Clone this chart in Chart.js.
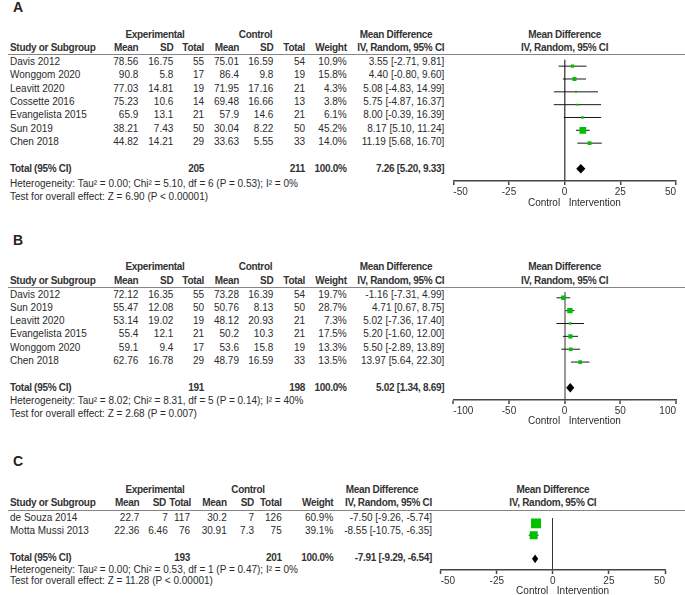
<!DOCTYPE html>
<html>
<head>
<meta charset="utf-8">
<script src="https://cdn.jsdelivr.net/npm/chart.js@4.4.1/dist/chart.umd.min.js"></script>
<style>
  html, body { margin:0; padding:0; background:#fff; }
  #page { position:relative; width:685px; height:595px; overflow:hidden;
          font-family:"Liberation Sans", Arial, sans-serif; font-size:10px; color:#2b2b2b; }
  .t { position:absolute; height:14px; line-height:14px; white-space:nowrap; }
  .b { font-weight:bold; letter-spacing:-0.3px; color:#333; }
  .lbl { position:absolute; font-weight:bold; font-size:14px; line-height:16px; color:#222; }
  .rule { position:absolute; height:1.5px; background:#858585; }
  canvas { position:absolute; }
</style>
</head>
<body>
<div id="page"></div>
<script>
// ---- panel A : data ----
const studiesA = ['Davis 2012','Wonggom 2020','Leavitt 2020','Cossette 2016','Evangelista 2015','Sun 2019','Chen 2018'];
const expMeanA = [78.56, 90.8, 77.03, 75.23, 65.9, 38.21, 44.82];
const expSdA   = [16.75, 5.8, 14.81, 10.6, 13.1, 7.43, 14.21];
const expNA    = [55, 17, 19, 14, 21, 50, 29];
const ctlMeanA = [75.01, 86.4, 71.95, 69.48, 57.9, 30.04, 33.63];
const ctlSdA   = [16.59, 9.8, 17.16, 16.66, 14.6, 8.22, 5.55];
const ctlNA    = [54, 19, 21, 13, 21, 50, 33];
const weightA  = [10.9, 15.8, 4.3, 3.8, 6.1, 45.2, 14.0];
const mdA      = [3.55, 4.40, 5.08, 5.75, 8.00, 8.17, 11.19];
const loA      = [-2.71, -0.80, -4.83, -4.87, -0.39, 5.10, 5.68];
const hiA      = [9.81, 9.60, 14.99, 16.37, 16.39, 11.24, 16.70];
const totalA   = {expN: 205, ctlN: 211, md: 7.26, lo: 5.20, hi: 9.33};
const hetA  = 'Heterogeneity: Tau² = 0.00; Chi² = 5.10, df = 6 (P = 0.53); I² = 0%';
const testA = 'Test for overall effect: Z = 6.90 (P < 0.00001)';
const ticksA = [-50, -25, 0, 25, 50];

// ---- panel B : data ----
const studiesB = ['Davis 2012','Sun 2019','Leavitt 2020','Evangelista 2015','Wonggom 2020','Chen 2018'];
const expMeanB = [72.12, 55.47, 53.14, 55.4, 59.1, 62.76];
const expSdB   = [16.35, 12.08, 19.02, 12.1, 9.4, 16.78];
const expNB    = [55, 50, 19, 21, 17, 29];
const ctlMeanB = [73.28, 50.76, 48.12, 50.2, 53.6, 48.79];
const ctlSdB   = [16.39, 8.13, 20.93, 10.3, 15.8, 16.59];
const ctlNB    = [54, 50, 21, 21, 19, 33];
const weightB  = [19.7, 28.7, 7.3, 17.5, 13.3, 13.5];
const mdB      = [-1.16, 4.71, 5.02, 5.20, 5.50, 13.97];
const loB      = [-7.31, 0.67, -7.36, -1.60, -2.89, 5.64];
const hiB      = [4.99, 8.75, 17.40, 12.00, 13.89, 22.30];
const totalB   = {expN: 191, ctlN: 198, md: 5.02, lo: 1.34, hi: 8.69};
const hetB  = 'Heterogeneity: Tau² = 8.02; Chi² = 8.31, df = 5 (P = 0.14); I² = 40%';
const testB = 'Test for overall effect: Z = 2.68 (P = 0.007)';
const ticksB = [-100, -50, 0, 50, 100];

// ---- panel C : data ----
const studiesC = ['de Souza 2014','Motta Mussi 2013'];
const expMeanC = [22.7, 22.36];
const expSdC   = [7, 6.46];
const expNC    = [117, 76];
const ctlMeanC = [30.2, 30.91];
const ctlSdC   = [7, 7.3];
const ctlNC    = [126, 75];
const weightC  = [60.9, 39.1];
const mdC      = [-7.50, -8.55];
const loC      = [-9.26, -10.75];
const hiC      = [-5.74, -6.35];
const totalC   = {expN: 193, ctlN: 201, md: -7.91, lo: -9.29, hi: -6.54};
const hetC  = 'Heterogeneity: Tau² = 0.00; Chi² = 0.53, df = 1 (P = 0.47); I² = 0%';
const testC = 'Test for overall effect: Z = 11.28 (P < 0.00001)';
const ticksC = [-50, -25, 0, 25, 50];

const page = document.getElementById('page');
const W = 685;

function txt(s, x, y, align, bold) {
  const d = document.createElement('div');
  d.className = 't' + (bold ? ' b' : '');
  d.textContent = s;
  d.style.top = (y - 7) + 'px';
  if (align === 'right') d.style.right = (W - x) + 'px';
  else if (align === 'center') { d.style.left = (x - 150) + 'px'; d.style.width = '300px'; d.style.textAlign = 'center'; }
  else d.style.left = x + 'px';
  page.appendChild(d);
}
const ci = (m, l, h) => `${m.toFixed(2)} [${l.toFixed(2)}, ${h.toFixed(2)}]`;

// diamond for the pooled estimate, placed with the chart's own scales
const diamondPlugin = {
  id: 'diamond',
  afterDatasetsDraw(chart, args, o) {
    const x = chart.scales.x, y = chart.scales.y, c = chart.ctx;
    c.save();
    c.beginPath();
    c.moveTo(x.getPixelForValue(o.lo), y.getPixelForValue(o.row));
    c.lineTo(x.getPixelForValue(o.md), y.getPixelForValue(o.row - 0.37));
    c.lineTo(x.getPixelForValue(o.hi), y.getPixelForValue(o.row));
    c.lineTo(x.getPixelForValue(o.md), y.getPixelForValue(o.row + 0.37));
    c.closePath();
    c.fillStyle = '#000';
    c.fill();
    c.restore();
  }
};

function panel(p) {
  // letter + table headers
  const l = document.createElement('div');
  l.className = 'lbl'; l.textContent = p.letter;
  l.style.left = '13px'; l.style.top = (p.labelY - 8) + 'px';
  page.appendChild(l);

  const c = p.cols, h = p.hcols || p.cols;
  txt('Experimental', p.expCenter, p.hdr1, 'center', true);
  txt('Control', p.ctlCenter, p.hdr1, 'center', true);
  txt('Mean Difference', p.mdCenter, p.hdr1, 'center', true);
  txt('Study or Subgroup', 10, p.hdr2, 'left', true);
  txt('Mean', h[0], p.hdr2, 'right', true);
  txt('SD', h[1], p.hdr2, 'right', true);
  txt('Total', h[2], p.hdr2, 'right', true);
  txt('Mean', h[3], p.hdr2, 'right', true);
  txt('SD', h[4], p.hdr2, 'right', true);
  txt('Total', h[5], p.hdr2, 'right', true);
  txt('Weight', h[6], p.hdr2, 'right', true);
  txt('IV, Random, 95% CI', h[7], p.hdr2, 'right', true);

  const r = document.createElement('div');
  r.className = 'rule';
  r.style.left = '8px'; r.style.width = (W - 8) + 'px'; r.style.top = (p.ruleY - 0.75) + 'px';
  page.appendChild(r);

  p.studies.forEach((s, i) => {
    const y = p.row0 + i * p.step;
    txt(s, 10, y, 'left');
    txt(String(p.expMean[i]), c[0], y, 'right');
    txt(String(p.expSd[i]), c[1], y, 'right');
    txt(String(p.expN[i]), c[2], y, 'right');
    txt(String(p.ctlMean[i]), c[3], y, 'right');
    txt(String(p.ctlSd[i]), c[4], y, 'right');
    txt(String(p.ctlN[i]), c[5], y, 'right');
    txt(p.weight[i].toFixed(1) + '%', c[6], y, 'right');
    txt(ci(p.md[i], p.lo[i], p.hi[i]), c[7], y, 'right');
  });
  const ty = p.row0 + p.totalRow * p.step;
  txt('Total (95% CI)', 10, ty, 'left', true);
  txt(String(p.total.expN), c[2], ty, 'right', true);
  txt(String(p.total.ctlN), c[5], ty, 'right', true);
  txt('100.0%', c[6], ty, 'right', true);
  txt(ci(p.total.md, p.total.lo, p.total.hi), c[7], ty, 'right', true);
  txt(p.het, 10, p.hetY, 'left');
  txt(p.test, 10, p.testY, 'left');

  // forest plot
  const cv = document.createElement('canvas');
  cv.width = p.box.w; cv.height = p.box.h;
  cv.style.left = p.box.x + 'px'; cv.style.top = p.box.y + 'px';
  cv.style.width = p.box.w + 'px'; cv.style.height = p.box.h + 'px';
  page.appendChild(cv);

  const rows = p.studies.map((s, i) => i);
  // squares first so they sit on top of the whiskers
  const datasets = [{
    data: rows.map(i => ({x: p.md[i], y: i})),
    pointStyle: 'rect',
    pointRadius: p.weight.map(w => p.sq * Math.sqrt(w) / Math.SQRT2),
    backgroundColor: '#00c000',
    borderWidth: 0
  }];
  rows.forEach(i => {
    datasets.push({
      data: [{x: p.lo[i], y: i}, {x: p.hi[i], y: i}],
      showLine: true,
      pointRadius: 0,
      borderColor: '#1a1a1a',
      borderWidth: 1
    });
  });

  const chart = new Chart(cv, {
    type: 'scatter',
    data: { datasets },
    options: {
      responsive: false,
      animation: false,
      events: [],
      layout: { padding: { left: p.padL, right: p.padR, top: 0, bottom: 0 } },
      plugins: {
        legend: { display: false },
        tooltip: { enabled: false },
        diamond: { md: p.total.md, lo: p.total.lo, hi: p.total.hi, row: p.totalRow }
      },
      scales: {
        x: {
          type: 'linear',
          min: p.ticks[0],
          max: p.ticks[p.ticks.length - 1],
          afterBuildTicks: (s) => { s.ticks = p.ticks.map(v => ({value: v})); },
          afterFit: (s) => { s.height = 22; },
          border: { color: '#444', width: 1.5 },
          grid: {
            color: (ctx) => (ctx.tick && ctx.tick.value === 0) ? p.zeroColor : 'rgba(0,0,0,0)',
            lineWidth: p.zeroWidth,
            tickColor: '#444',
            tickWidth: 1.5,
            tickLength: 4
          },
          ticks: {
            align: 'inner',
            padding: 1,
            maxRotation: 0,
            color: '#333',
            font: { family: 'Liberation Sans', size: 10 }
          }
        },
        y: {
          type: 'linear',
          display: false,
          reverse: true,
          min: p.yMin,
          max: p.yMax
        }
      }
    },
    plugins: [diamondPlugin]
  });

  const zero = p.box.x + chart.scales.x.getPixelForValue(0);
  txt('Mean Difference', zero, p.hdr1, 'center', true);
  txt('IV, Random, 95% CI', zero, p.hdr2, 'center', true);
  txt('Control', zero - 4.5, p.ctlY, 'right');
  txt('Intervention', zero + 4, p.ctlY, 'left');
}

const colsAB = [138.3, 173.3, 204, 239, 273.3, 305, 346.7, 444.3];

panel({
  letter: 'A', labelY: 7, hdr1: 35, hdr2: 48, ruleY: 54.7, row0: 62, step: 13.33, totalRow: 8,
  hetY: 183.5, testY: 196.5, ctlY: 203,
  cols: colsAB, expCenter: 155, ctlCenter: 255.5, mdCenter: 396,
  studies: studiesA, expMean: expMeanA, expSd: expSdA, expN: expNA,
  ctlMean: ctlMeanA, ctlSd: ctlSdA, ctlN: ctlNA, weight: weightA,
  md: mdA, lo: loA, hi: hiA, total: totalA, het: hetA, test: testA, ticks: ticksA,
  box: {x: 440, y: 55, w: 245, h: 148}, padL: 13.3, padR: 9, yMin: -0.5, yMax: 8.95,
  zeroColor: '#555', zeroWidth: 1.5, sq: 1.0
});

panel({
  letter: 'B', labelY: 239.5, hdr1: 267, hdr2: 280.5, ruleY: 287.7, row0: 294.5, step: 13.33, totalRow: 7,
  hetY: 401, testY: 414, ctlY: 421,
  cols: colsAB, expCenter: 155, ctlCenter: 255.5, mdCenter: 396,
  studies: studiesB, expMean: expMeanB, expSd: expSdB, expN: expNB,
  ctlMean: ctlMeanB, ctlSd: ctlSdB, ctlN: ctlNB, weight: weightB,
  md: mdB, lo: loB, hi: hiB, total: totalB, het: hetB, test: testB, ticks: ticksB,
  box: {x: 440, y: 288, w: 245, h: 134}, padL: 13.3, padR: 9, yMin: -0.45, yMax: 7.95,
  zeroColor: '#999', zeroWidth: 2, sq: 1.0
});

panel({
  letter: 'C', labelY: 460.5, hdr1: 490, hdr2: 503.3, ruleY: 510.7, row0: 517.5, step: 13.4, totalRow: 3,
  hetY: 570, testY: 581, ctlY: 591,
  cols: [139.3, 167.7, 190, 226.7, 254, 281.7, 333.3, 432],
  hcols: [139.3, 166, 191, 226.7, 254, 281.7, 333.3, 432],
  expCenter: 155, ctlCenter: 248, mdCenter: 382,
  studies: studiesC, expMean: expMeanC, expSd: expSdC, expN: expNC,
  ctlMean: ctlMeanC, ctlSd: ctlSdC, ctlN: ctlNC, weight: weightC,
  md: mdC, lo: loC, hi: hiC, total: totalC, het: hetC, test: testC, ticks: ticksC,
  box: {x: 430, y: 511, w: 255, h: 81}, padL: 10.7, padR: 20, yMin: -0.45, yMax: 3.95,
  zeroColor: '#333', zeroWidth: 1, sq: 1.28
});
</script>
</body>
</html>
